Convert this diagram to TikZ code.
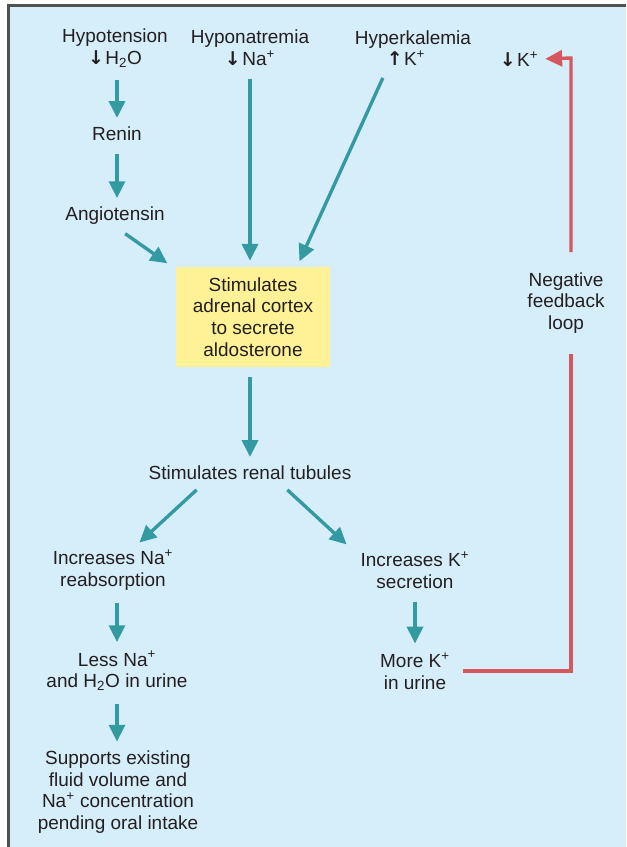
\documentclass[tikz,border=0pt]{standalone}
\usepackage{fontspec}
\setmainfont{Liberation Sans}
\newfontfamily\arrfont{DejaVu Sans}
\usetikzlibrary{arrows.meta, positioning, calc}

\definecolor{panelblue}{RGB}{214,237,250}
\definecolor{boxyellow}{RGB}{255,242,150}
\definecolor{tealarrow}{RGB}{52,154,162}
\definecolor{loopred}{RGB}{214,88,94}
\definecolor{textgray}{RGB}{35,31,32}
\definecolor{framegray}{RGB}{80,80,80}

\newcommand{\arrdown}{{\arrfont\bfseries ↓}\kern1pt}
\newcommand{\arrup}{{\arrfont\bfseries ↑}\kern1pt}

\begin{document}
\begin{tikzpicture}[
    x=0.025cm, y=-0.025cm,
    every node/.style={font=\fontsize{13.5}{15.4}\selectfont, text=textgray, align=center, inner sep=2pt},
    arrow/.style={-{Triangle[length=0.42cm, width=0.4cm]}, line width=2.4pt, tealarrow, shorten <=0.25cm, shorten >=0.15cm},
    box/.style={fill=boxyellow, minimum width=3.825cm, minimum height=2.5cm},
    feedback/.style={line width=2.4pt, loopred}
]
\useasboundingbox (0,0) rectangle (626,847);

% ============ PANEL ============
\fill[panelblue] (9,6) rectangle (626,847);
\draw[framegray, line width=1.6pt] (8.5,847) -- (8.5,5.5) -- (626,5.5);

% ============ TRIGGERS (TOP) ============
\node (hypo) at (115,48) {Hypotension\\\arrdown H\textsubscript{2}O};
\node (hna) at (250,48) {Hyponatremia\\\arrdown Na\textsuperscript{+}};
\node (hk) at (413,48) {Hyperkalemia\\\arrup K\textsuperscript{+}\kern10pt};
\node (kdown) at (519,59) {\arrdown K\textsuperscript{+}};

% Renin-angiotensin chain
\node (renin) at (117,134) {Renin};
\node (angio) at (115,216) {Angiotensin};

% Adrenal cortex
\node[box] (aldo) at (253,317) {Stimulates\\adrenal cortex\\to secrete\\aldosterone};

% ============ KIDNEY ============
\node (renal) at (250,473) {Stimulates renal tubules};
\node (incna) at (113,570) {Increases Na\textsuperscript{+}\\reabsorption};
\node (inck) at (415,570) {Increases K\textsuperscript{+}\\secretion};
\node (lessna) at (117,671) {Less Na\textsuperscript{+}\\and H\textsubscript{2}O in urine};
\node (morek) at (415,671) {More K\textsuperscript{+}\\in urine};
\node (supports) at (118,792) {Supports existing\\fluid volume and\\Na\textsuperscript{+} concentration\\pending oral intake};

% Feedback label
\node[inner ysep=0.5cm] (loop) at (566,303) {Negative\\feedback\\loop};

% Arrows
\draw[arrow] (renin.north |- hypo.south) -- (renin.north);
\draw[arrow] (renin.south) -- (renin.south |- angio.north);
\draw[arrow] ([xshift=0.05cm]angio.south) -- ([xshift=-0.1cm]aldo.north west);
\draw[arrow] (hna.south) -- (hna.south |- aldo.north);
\draw[arrow] ([xshift=-0.65cm]hk.south) -- ([xshift=1.1cm]aldo.north);
\draw[arrow] (aldo.south -| renal.north) -- (renal.north);
\draw[arrow] ([xshift=-1.15cm]renal.south) -- ([xshift=0.55cm]incna.north);
\draw[arrow] ([xshift=0.75cm]renal.south) -- ([xshift=-1.6cm]inck.north);
\draw[arrow] (incna.south -| lessna.north) -- (lessna.north);
\draw[arrow] (lessna.south) -- (lessna.south |- supports.north);
\draw[arrow] (inck.south) -- (morek.north);

% Negative feedback loop
\coordinate (lowcorner) at (571,671);
\coordinate (highcorner) at (571,58);
\draw[feedback, shorten <=0.25cm] (morek.east) -- (lowcorner) -- (lowcorner |- loop.south);
\draw[feedback, -{Triangle[length=0.42cm, width=0.4cm]}, shorten >=0.1cm] (lowcorner |- loop.north) -- (highcorner) -- (kdown.east);

\end{tikzpicture}
\end{document}
